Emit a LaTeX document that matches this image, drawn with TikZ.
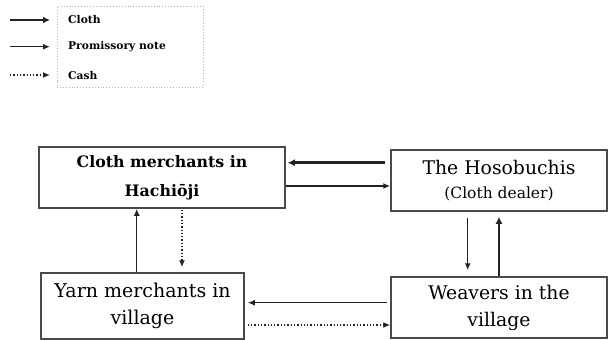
\documentclass[tikz,border=0pt]{standalone}
\usepackage{fontspec}
\setmainfont{DejaVu Serif}
\usetikzlibrary{arrows.meta}
\definecolor{linec}{HTML}{222222}
\definecolor{boxc}{HTML}{4A4A4A}
\tikzset{
  box/.style={draw=boxc, line width=1.5pt, fill=white, inner sep=0pt, align=center},
  cloth/.style={draw=linec, line width=2.8pt, -{Latex[length=7pt,width=7pt]}},
  note/.style={draw=linec, line width=1.5pt, -{Latex[length=7pt,width=6pt]}},
  cash/.style={draw=linec, line width=1.3pt, dotted, -{Latex[length=7pt,width=6pt]}},
  legtext/.style={anchor=west, inner sep=0pt, font=\fontsize{10.7}{12}\selectfont\bfseries},
}
\begin{document}
\begin{tikzpicture}[x=1pt,y=-1pt]
\useasboundingbox (0,0) rectangle (608,340);
% legend
\node[draw=gray!60, dotted, line width=0.9pt, minimum width=146pt, minimum height=81pt, inner sep=0pt] (leg) at (130,46.5) {};
\coordinate (la1) at (10,20);   \coordinate (lb1) at (50,20);
\coordinate (la2) at (10,46.7); \coordinate (lb2) at (50,46.7);
\coordinate (la3) at (10,75);   \coordinate (lb3) at (50,75);
\draw[cloth] (la1) -- (lb1);
\draw[note] (la2) -- (lb2);
\draw[cash] (la3) -- (lb3);
\node[legtext] (t1) at (68,20) {Cloth};
\node[legtext] (t2) at (68,47) {Promissory note};
\node[legtext] (t3) at (68,75.5) {Cash};
% boxes
\node[box, minimum width=246pt, minimum height=61pt, font=\fontsize{15.8}{29}\selectfont\bfseries] (b1) at (162,177.5) {\raisebox{-2pt}{Cloth merchants in}\\\raisebox{-2pt}{Hachiōji}};
\node[box, minimum width=216pt, minimum height=61pt] (b2) at (499,180.5) {{\fontsize{18.8}{18.8}\selectfont The Hosobuchis}\\[11pt]{\fontsize{15.5}{15.5}\selectfont (Cloth dealer)}};
\node[box, minimum width=203pt, minimum height=66pt, font=\fontsize{19}{27}\selectfont] (b3) at (142.5,306) {Yarn merchants in\\village};
\node[box, minimum width=216pt, minimum height=61pt, font=\fontsize{18.8}{27}\selectfont] (b4) at (499,307.5) {Weavers in the\\village};
% connectors top
\draw[cloth, shorten <=5pt, shorten >=2pt] (b2.west |- 0,162.7) -- (b1.east |- 0,162.7);
\draw[note] (b1.east |- 0,186) -- (b2.west |- 0,186);
% right verticals
\draw[note, shorten <=6pt, shorten >=6pt] (b2.south -| 467.7,0) -- (b4.north -| 467.7,0);
\draw[cloth, shorten >=5pt] (b4.north -| 499,0) -- (b2.south -| 499,0);
% left verticals
\draw[note] (b3.north -| 136.7,0) -- (b1.south -| 136.7,0);
\draw[cash, shorten <=1pt, shorten >=5pt] (b1.south -| 182,0) -- (b3.north -| 182,0);
% bottom
\draw[note, shorten <=3pt, shorten >=3pt] (b4.west |- 0,302.7) -- (b3.east |- 0,302.7);
\draw[cash, shorten <=3pt] (b3.east |- 0,325) -- (b4.west |- 0,325);
\end{tikzpicture}
\end{document}
